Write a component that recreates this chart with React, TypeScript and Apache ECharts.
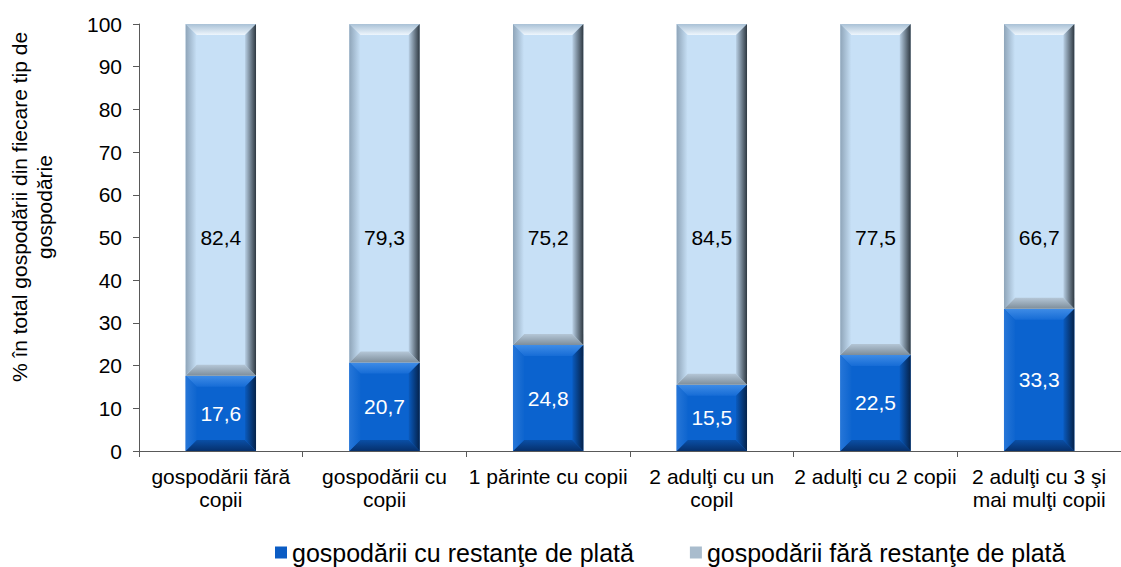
import React, { useEffect, useRef } from 'react';
import * as echarts from 'echarts';

const categories = [
  'gospodării fără\ncopii',
  'gospodării cu\ncopii',
  '1 părinte cu copii',
  '2 adulţi cu un\ncopil',
  '2 adulţi cu 2 copii',
  '2 adulţi cu 3 şi\nmai mulţi copii',
];
const withArrears = [17.6, 20.7, 24.8, 15.5, 22.5, 33.3];
const withoutArrears = [82.4, 79.3, 75.2, 84.5, 77.5, 66.7];
const seriesNames = ['gospodării cu restanţe de plată', 'gospodării fără restanţe de plată'];
const yAxisTitle = '% în total gospodării din fiecare tip de\ngospodărie';
const yMin = 0;
const yMax = 100;
const yInterval = 10;

const FONT = '"Liberation Sans", Arial, sans-serif';

type Pal = {
  face: string; top: [string, string]; left: [string, string];
  right: [string, string]; bottom: [string, string]; label: string;
};

const darkPal: Pal = {
  face: '#0b63cf', top: ['#3f8ce6', '#166cd6'], left: ['#2676d8', '#0e65cf'],
  right: ['#0a5bbf', '#05224a'], bottom: ['#0a4fa6', '#06306c'], label: '#ffffff',
};
const lightPal: Pal = {
  face: '#c7e0f6', top: ['#a9c1d6', '#eef6fd'], left: ['#8fa5b9', '#c7e0f6'],
  right: ['#b9d0e5', '#2e3841'], bottom: ['#b4c6d6', '#7d8d9a'], label: '#000000',
};

const lg = (x2: number, y2: number, c: [string, string]) =>
  new echarts.graphic.LinearGradient(0, 0, x2, y2, [
    { offset: 0, color: c[0] },
    { offset: 1, color: c[1] },
  ]);

const makeRender = (pal: Pal) => (params: any, api: any) => {
  const cat = api.value(0);
  const base = api.value(1);
  const val = api.value(2);
  const p0 = api.coord([cat, base]);
  const p1 = api.coord([cat, base + val]);
  const w = api.size([1, 0])[0] * 0.43;
  const x0 = p0[0] - w / 2;
  const x1 = p0[0] + w / 2;
  const yB = p0[1];
  const yT = p1[1];
  const b = Math.min(11, (yB - yT) / 2);
  const labelY = api.coord([cat, (base + val) / 2])[1];
  const txt = val.toFixed(1).replace('.', ',');
  return {
    type: 'group',
    children: [
      { type: 'rect', shape: { x: x0, y: yT, width: w, height: yB - yT }, style: { fill: pal.face } },
      { type: 'polygon', shape: { points: [[x0, yT], [x1, yT], [x1 - b, yT + b], [x0 + b, yT + b]] }, style: { fill: lg(0, 1, pal.top) } },
      { type: 'polygon', shape: { points: [[x0, yB], [x1, yB], [x1 - b, yB - b], [x0 + b, yB - b]] }, style: { fill: lg(0, 1, pal.bottom) } },
      { type: 'polygon', shape: { points: [[x0, yT], [x0 + b, yT + b], [x0 + b, yB - b], [x0, yB]] }, style: { fill: lg(1, 0, [pal.left[0], pal.left[1]]) } },
      { type: 'polygon', shape: { points: [[x1, yT], [x1 - b, yT + b], [x1 - b, yB - b], [x1, yB]] }, style: { fill: lg(1, 0, [pal.right[0], pal.right[1]]) } },
      {
        type: 'text', x: p0[0], y: labelY,
        style: { text: txt, fill: pal.label, fontSize: 21, fontFamily: FONT, align: 'center', verticalAlign: 'middle' },
      },
    ],
  };
};

export default function App() {
  const ref = useRef<HTMLDivElement>(null);
  useEffect(() => {
    if (!ref.current) return;
    const chart = echarts.init(ref.current, undefined, { renderer: 'svg' });
    chart.setOption({
      animation: false,
      backgroundColor: '#ffffff',
      grid: { left: 139, right: -10, top: 24, bottom: 116, containLabel: false },
      legend: {
        left: 270, top: 535, itemWidth: 12, itemHeight: 12, itemGap: 56,
        textStyle: { fontSize: 25, fontFamily: FONT, color: '#000' },
        data: [
          { name: seriesNames[0], icon: 'rect', itemStyle: { color: '#0b5cc4' } },
          { name: seriesNames[1], icon: 'rect', itemStyle: { color: '#a9bccd' } },
        ],
      },
      graphic: [
        {
          type: 'text', x: 32, y: 207, rotation: Math.PI / 2,
          style: { text: yAxisTitle, fontSize: 21, lineHeight: 25, fontFamily: FONT, fill: '#000', align: 'center', verticalAlign: 'middle' },
        },
      ],
      xAxis: {
        type: 'category', data: categories,
        axisLine: { lineStyle: { color: '#595959', width: 1 } },
        axisTick: { show: true, length: 6, lineStyle: { color: '#595959' } },
        axisLabel: { fontSize: 21, fontFamily: FONT, color: '#000', margin: 14, lineHeight: 23, interval: 0 },
      },
      yAxis: {
        type: 'value', min: yMin, max: yMax, interval: yInterval,
        splitLine: { show: false },
        axisLine: { show: true, lineStyle: { color: '#595959', width: 1 } },
        axisTick: { show: true, length: 6, lineStyle: { color: '#595959' } },
        axisLabel: { fontSize: 21, fontFamily: FONT, color: '#000', margin: 17 },
      },
      series: [
        {
          name: seriesNames[0], type: 'custom', renderItem: makeRender(darkPal),
          itemStyle: { color: '#0b5cc4' }, encode: { x: 0, y: 2 },
          data: withArrears.map((v, i) => [i, 0, v]),
        },
        {
          name: seriesNames[1], type: 'custom', renderItem: makeRender(lightPal),
          itemStyle: { color: '#a9bccd' }, encode: { x: 0, y: 2 },
          data: withoutArrears.map((v, i) => [i, withArrears[i], v]),
        },
      ],
    });
    return () => chart.dispose();
  }, []);
  return <div ref={ref} style={{ position: 'fixed', left: 0, top: 0, width: 1121, height: 567 }} />;
}
